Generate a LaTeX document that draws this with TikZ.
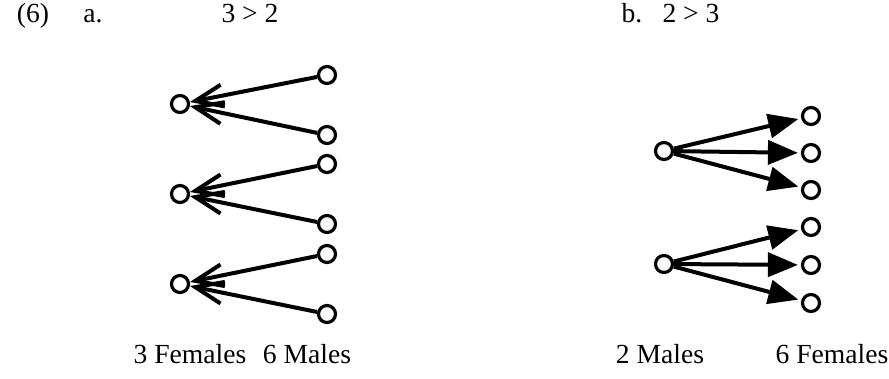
\documentclass[tikz,border=0pt]{standalone}
\usepackage{fontspec}
\setmainfont{Liberation Serif}
\usetikzlibrary{arrows.meta}

\begin{document}
\begin{tikzpicture}[x=0.5pt,y=-0.5pt,
  person/.style={draw, circle, line width=1.6pt, minimum size=8.5pt, inner sep=0pt},
  txt/.style={anchor=base, inner sep=0pt, font=\fontsize{13.8pt}{16pt}\selectfont},
  pairs/.style={line width=2pt, -{Straight Barb[length=14pt,width=11pt,line width=2pt]}},
  sends/.style={line width=2pt, shorten >=1.5pt, -{Triangle[length=15pt,width=12pt]}}]
\useasboundingbox (0,0) rectangle (889,379);

% headings
\node[txt] (ex) at (33,23) {(6)};
\node[txt] (pa) at (93,23) {a.};
\node[txt] (ra) at (250,23) {3 > 2};
\node[txt] (pb) at (632,23) {b.};
\node[txt] (rb) at (691,23) {2 > 3};

% a. each female paired with two males
\node[person] (f1) at (180,104) {};
\node[person] (f2) at (180,194) {};
\node[person] (f3) at (180,284) {};
\node[person] (m1) at (327,75) {};
\node[person] (m2) at (327,135) {};
\node[person] (m3) at (327,164) {};
\node[person] (m4) at (327,224) {};
\node[person] (m5) at (327,254) {};
\node[person] (m6) at (327,314) {};
\draw[pairs] (m1) -- (f1);
\draw[pairs] (m2) -- (f1);
\draw[pairs] (m3) -- (f2);
\draw[pairs] (m4) -- (f2);
\draw[pairs] (m5) -- (f3);
\draw[pairs] (m6) -- (f3);
\node[txt] (fa) at (190,364) {3 Females};
\node[txt] (ma) at (307,364) {6 Males};

% b. each male paired with three females
\node[person] (n1) at (664,151) {};
\node[person] (n2) at (664,264) {};
\node[person] (g1) at (811,116) {};
\node[person] (g2) at (811,153) {};
\node[person] (g3) at (811,190) {};
\node[person] (g4) at (811,227) {};
\node[person] (g5) at (811,265) {};
\node[person] (g6) at (811,303) {};
\draw[sends] (n1) -- (g1);
\draw[sends] (n1) -- (g2);
\draw[sends] (n1) -- (g3);
\draw[sends] (n2) -- (g4);
\draw[sends] (n2) -- (g5);
\draw[sends] (n2) -- (g6);
\node[txt] (mb) at (660,364) {2 Males};
\node[txt] (fb) at (832,364) {6 Females};
\end{tikzpicture}
\end{document}
